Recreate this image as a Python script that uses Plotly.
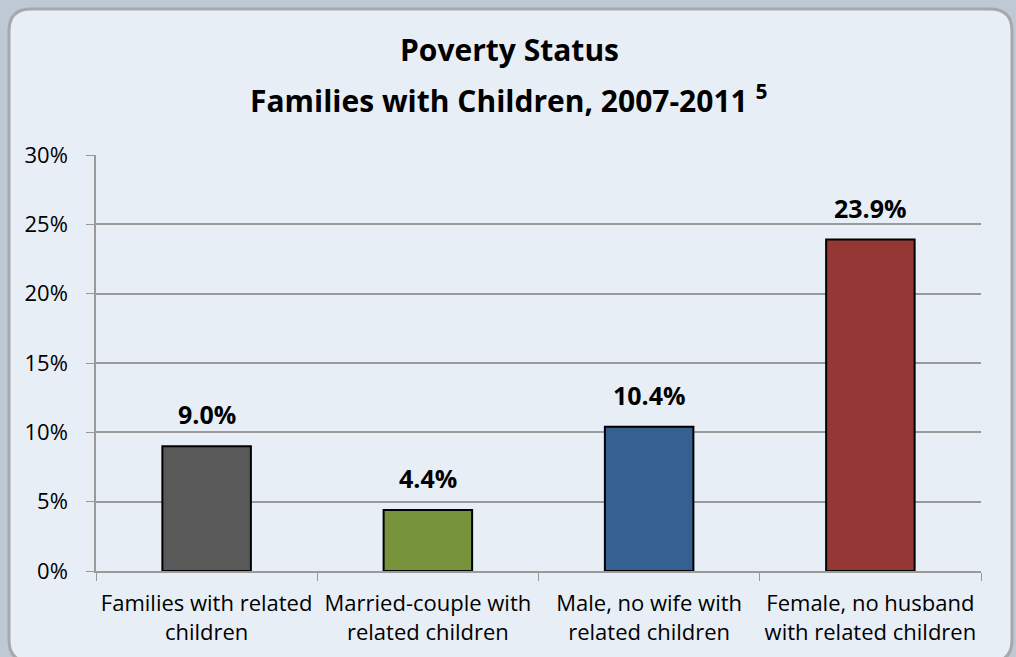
import plotly.graph_objects as go

categories = [
    "Families with related<br>children",
    "Married-couple with<br>related children",
    "Male, no wife with<br>related children",
    "Female, no husband<br>with related children",
]
poverty_pct = [9.0, 4.4, 10.4, 23.9]
bar_colors = ["#595959", "#77933c", "#366092", "#953735"]

W, H = 1016, 657
L, R, T, B = 96, 35, 155, 86
pw, ph = W - L - R, H - T - B
FONT = "Open Sans"


def px_x(x):
    return (x - L) / pw


def px_y(y):
    return (H - B - y) / ph


def rounded_rect(x0, y0, x1, y1, r):
    # pixel coords -> paper coords path with rounded corners
    pts = [
        f"M {px_x(x0 + r)},{px_y(y0)}",
        f"L {px_x(x1 - r)},{px_y(y0)}",
        f"Q {px_x(x1)},{px_y(y0)} {px_x(x1)},{px_y(y0 + r)}",
        f"L {px_x(x1)},{px_y(y1 - r)}",
        f"Q {px_x(x1)},{px_y(y1)} {px_x(x1 - r)},{px_y(y1)}",
        f"L {px_x(x0 + r)},{px_y(y1)}",
        f"Q {px_x(x0)},{px_y(y1)} {px_x(x0)},{px_y(y1 - r)}",
        f"L {px_x(x0)},{px_y(y0 + r)}",
        f"Q {px_x(x0)},{px_y(y0)} {px_x(x0 + r)},{px_y(y0)} Z",
    ]
    return " ".join(pts)


fig = go.Figure(
    go.Bar(
        x=categories,
        y=poverty_pct,
        width=0.4,
        marker=dict(color=bar_colors, line=dict(color="#000000", width=2)),
        hovertemplate="%{x}: %{y:.1f}%<extra></extra>",
    )
)

# value labels above bars
for cat, v in zip(categories, poverty_pct):
    fig.add_annotation(
        x=cat, y=v, text=f"<b>{v:.1f}%</b>", showarrow=False,
        yanchor="middle", yshift=32,
        font=dict(family=FONT, size=25, color="#000000"),
    )

# title lines
fig.add_annotation(
    x=px_x(509), xref="paper", y=px_y(50), yref="paper", xanchor="center",
    yanchor="middle", showarrow=False, text="<b>Poverty Status</b>",
    font=dict(family=FONT, size=30, color="#000000"),
)
fig.add_annotation(
    x=px_x(509), xref="paper", y=px_y(99), yref="paper", xanchor="center",
    yanchor="middle", showarrow=False,
    text="<b>Families with Children, 2007-2011 <sup>5</sup></b>",
    font=dict(family=FONT, size=30, color="#000000"),
)

fig.add_shape(
    type="path",
    path=rounded_rect(9, 9, 1012, 662, 22),
    xref="paper",
    yref="paper",
    fillcolor="#e8eef6",
    line=dict(color="#a8a8a8", width=3),
    layer="below",
)

fig.update_layout(
    width=W,
    height=H,
    margin=dict(l=L, r=R, t=T, b=B, autoexpand=False),
    paper_bgcolor="#bfc9d6",
    plot_bgcolor="#efefef",
    showlegend=False,
    font=dict(family=FONT, color="#000000", size=22),
)

fig.update_yaxes(
    range=[0, 30],
    dtick=5,
    ticksuffix="%",
    showgrid=True,
    gridcolor="#9a9a9a",
    gridwidth=1.5,
    showline=True,
    linecolor="#9a9a9a",
    linewidth=1.5,
    ticks="outside",
    ticklen=8,
    tickcolor="#9a9a9a",
    zeroline=False,
    tickfont=dict(size=22),
    ticklabelstandoff=14,
    automargin=False,
)

fig.update_xaxes(
    showline=True,
    linecolor="#9a9a9a",
    linewidth=1.5,
    ticks="outside",
    tickson="boundaries",
    ticklen=8,
    tickcolor="#9a9a9a",
    tickfont=dict(size=22),
    ticklabelstandoff=12,
    automargin=False,
)

fig.write_html(
    "out.html",
    config={"displayModeBar": False},
    post_script="document.body.style.margin='0px';",
)
